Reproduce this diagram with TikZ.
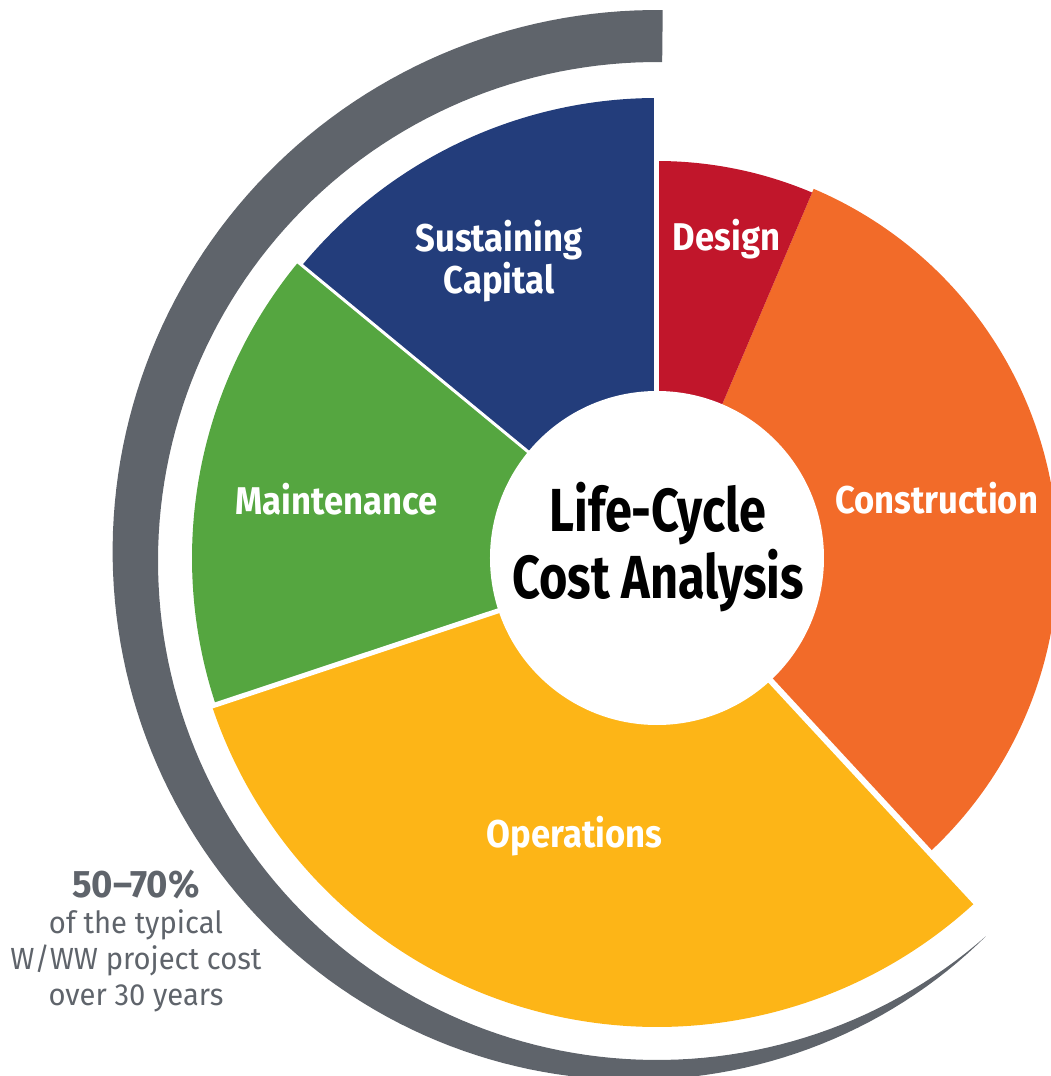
\documentclass[tikz,border=0pt]{standalone}
\usepackage{fontspec}
\setmainfont{Fira Sans}
\newfontfamily\chartfont[FakeStretch=0.895]{Fira Sans}
\newfontfamily\hubfont[FakeStretch=0.80]{Fira Sans}
\newfontfamily\notefont[FakeStretch=0.955]{Fira Sans}
\definecolor{lccgrey}{RGB}{95,100,107}
\definecolor{lccnavy}{RGB}{35,61,123}
\definecolor{lccred}{RGB}{193,22,43}
\definecolor{lccorange}{RGB}{242,107,41}
\definecolor{lccyellow}{RGB}{253,181,23}
\definecolor{lccgreen}{RGB}{85,166,64}

\begin{document}
\begin{tikzpicture}[
    seglabel/.style={text=white, inner sep=0pt, align=center, font=\chartfont\bfseries\fontsize{11}{12}\selectfont},
    gapline/.style={white, line width=0.05cm},
    ]
    \useasboundingbox (-6.57,-5.18) rectangle (3.93,5.58);

    \coordinate (centre) at (0, 0);

    \fill[lccgrey] plot[domain=89.4:311, samples=150] (\x:{4.99-0.03*sin(\x)+0.52*(1-pow(max(\x-89.4,0.01)/221.6,2.3))}) -- plot[domain=311:89.4, samples=150] (\x:{4.99-0.03*sin(\x)}) -- cycle;

    \fill[lccnavy] (centre) -- (90:4.6) arc[start angle=90, end angle=140.5, radius=4.6] -- cycle;

    \fill[lccgreen] (centre) -- (140.5:4.65) arc[start angle=140.5, end angle=198.4, radius=4.65] -- cycle;

    \fill[lccyellow] (centre) -- (198.4:4.69) arc[start angle=198.4, end angle=312.8, radius=4.69] -- cycle;

    \fill[lccorange] (centre) -- (-47.2:4.01) arc[start angle=-47.2, end angle=67, radius=4.01] -- cycle;

    \fill[lccred] (centre) -- (67:3.97) arc[start angle=67, end angle=90, radius=3.97] -- cycle;

    \draw[gapline] (centre) -- (90:4.7);

    \draw[gapline, line width=0.06cm] (centre) -- (-47.2:4.8);

    \draw[gapline] (centre) -- (198.4:4.8);

    \draw[gapline, line width=0.03cm] (centre) -- (140.5:4.8);

    \fill[white] (centre) circle (1.67);

    \node[font=\hubfont\bfseries\fontsize{17.3}{14.2}\selectfont, align=center, inner sep=0pt] (title) at (0.01, 0.11) {Life-Cycle\\Cost Analysis};

    \node[seglabel, anchor=base] (design) at (0.695, 3.08) {Design};

    \node[seglabel, anchor=base] (construction) at (2.795, 0.45) {Construction};

    \node[seglabel, anchor=base] (operations) at (-0.825, -2.89) {Operations};

    \node[seglabel, anchor=base] (maintenance) at (-3.205, 0.44) {Maintenance};

    \node[seglabel] (sustaining) at (-1.58, 2.97) {Sustaining\\Capital};

    \node[text=lccgrey, inner sep=0pt, align=center, font=\notefont\fontsize{8.7}{10.2}\selectfont] (share) at (-5.21, -3.83) {{\bfseries\fontsize{10.9}{10.2}\selectfont 50\textendash70\%}\\of the typical\\W/WW project cost\\over 30 years};
\end{tikzpicture}
\end{document}
